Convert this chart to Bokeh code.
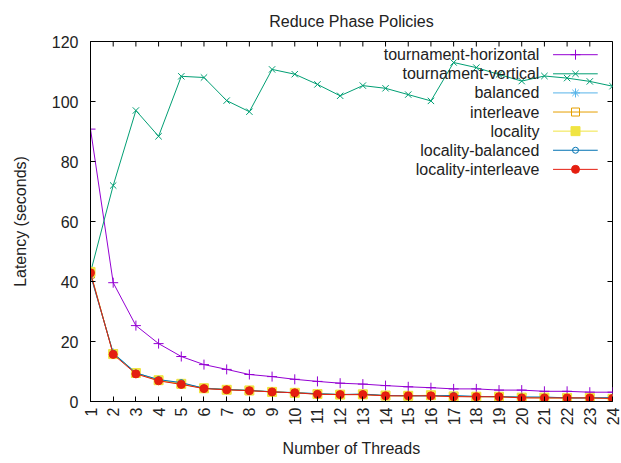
import math

from bokeh.core.properties import value
from bokeh.embed import file_html
from bokeh.models import FixedTicker, Range1d
from bokeh.plotting import figure
from bokeh.resources import INLINE

# Thread counts and measured reduce-phase latencies (seconds)
threads = list(range(1, 25))

tournament_horizontal = [90.8, 39.6, 25.3, 19.3, 15.0, 12.3, 10.7, 9.0, 8.3, 7.4, 6.7, 6.1,
                         5.8, 5.3, 4.9, 4.6, 4.2, 4.2, 3.8, 3.8, 3.4, 3.4, 3.1, 3.1]
tournament_vertical = [43.0, 72.0, 97.0, 88.4, 108.4, 108.0, 100.3, 96.6, 110.7, 109.1, 105.7, 101.9,
                       105.3, 104.4, 102.3, 100.2, 113.0, 111.3, 109.0, 106.8, 108.5, 107.8, 106.7, 105.1]
balanced = [42.0, 16.2, 9.6, 7.2, 6.0, 4.5, 4.0, 3.7, 3.3, 3.0, 2.6, 2.4,
            2.3, 2.0, 2.0, 1.9, 1.7, 1.6, 1.6, 1.4, 1.3, 1.2, 1.2, 1.1]
interleave = [42.5, 16.0, 9.4, 7.0, 5.8, 4.4, 4.0, 3.6, 3.2, 2.9, 2.5, 2.3,
              2.3, 1.9, 1.9, 2.0, 1.7, 1.6, 1.6, 1.3, 1.2, 1.2, 1.2, 0.9]
locality = [43.2, 15.8, 9.5, 7.1, 5.9, 4.4, 3.9, 3.7, 3.2, 2.9, 2.5, 2.3,
            2.4, 2.0, 1.9, 2.1, 1.7, 1.6, 1.6, 1.3, 1.3, 1.2, 1.2, 0.9]
locality_balanced = [42.4, 16.1, 9.5, 7.3, 6.3, 4.4, 4.0, 3.7, 3.2, 2.9, 2.6, 2.3,
                     2.5, 2.0, 1.9, 1.9, 2.0, 1.7, 1.6, 1.5, 1.5, 1.2, 1.2, 1.3]
locality_interleave = [42.9, 15.7, 9.2, 6.9, 5.7, 4.3, 3.9, 3.6, 3.2, 2.9, 2.4, 2.3,
                       2.3, 1.9, 1.9, 1.9, 1.6, 1.6, 1.6, 1.2, 1.2, 1.2, 1.2, 1.0]

series_names = ["tournament-horizontal", "tournament-vertical", "balanced", "interleave",
                "locality", "locality-balanced", "locality-interleave"]
series_values = [tournament_horizontal, tournament_vertical, balanced, interleave,
                 locality, locality_balanced, locality_interleave]

y_ticks = [0, 20, 40, 60, 80, 100, 120]
x_min, x_max = 1, 24
y_min, y_max = 0, 120

# (colour, marker, size, filled)
styles = [
    ("#9400d3", "cross", 10, False),
    ("#009e73", "x", 9, False),
    ("#56b4e9", "asterisk", 9, False),
    ("#e69f00", "square", 8, False),
    ("#f0e442", "square", 9, True),
    ("#0072b2", "circle", 6, False),
    ("#e51e10", "circle", 8, True),
]

FONT = "Liberation Sans"
TEXT = "#222222"

p = figure(width=621, height=463, output_backend="svg", toolbar_location=None,
           x_range=Range1d(x_min, x_max), y_range=Range1d(y_min, y_max),
           title="Reduce Phase Policies",
           min_border_left=90, min_border_right=9, min_border_top=41, min_border_bottom=62)

p.title.align = "center"
p.title.vertical_align = "top"
p.title.text_font = FONT
p.title.text_font_size = "16px"
p.title.text_font_style = "normal"
p.title.text_color = TEXT
p.title.standoff = 20

p.grid.visible = False
p.outline_line_color = "black"
p.outline_line_width = 1
p.background_fill_color = "white"
p.border_fill_color = "white"

for ax in (p.xaxis[0], p.yaxis[0]):
    ax.major_tick_in = 5
    ax.major_tick_out = 0
    ax.minor_tick_line_color = None
    ax.axis_line_color = "black"
    ax.major_tick_line_color = "black"
    ax.major_label_text_font = FONT
    ax.major_label_text_font_size = "16px"
    ax.major_label_text_color = TEXT
    ax.axis_label_text_font = FONT
    ax.axis_label_text_font_size = "16px"
    ax.axis_label_text_font_style = "normal"
    ax.axis_label_text_color = TEXT

p.xaxis[0].ticker = FixedTicker(ticks=threads)
p.xaxis[0].major_label_orientation = math.pi / 2
p.xaxis[0].major_label_standoff = 6
p.xaxis[0].axis_label = "Number of Threads"
p.xaxis[0].axis_label_standoff = 12

p.yaxis[0].ticker = FixedTicker(ticks=y_ticks)
p.yaxis[0].major_label_standoff = 12
p.yaxis[0].axis_label = "Latency (seconds)"
p.yaxis[0].axis_label_standoff = 20

# Mirrored inward ticks on the top and right borders (the half outside the frame is clipped)
p.scatter(threads, [y_max] * len(threads), marker="dash", angle=math.pi / 2, size=10,
          line_color="black", line_width=1)
p.scatter([x_max] * len(y_ticks), y_ticks, marker="dash", size=10,
          line_color="black", line_width=1)

for vals, (color, marker, size, filled) in zip(series_values, styles):
    p.line(threads, vals, line_color=color, line_width=1)
    p.scatter(threads, vals, marker=marker, size=size, line_color=color, line_width=1,
              fill_color=color if filled else None)

# Key in the upper right: right-aligned names followed by a line sample
key_text_x = 20.78
key_line_x0, key_line_x1, key_mark_x = 21.38, 23.35, 22.37
key_y0, key_dy = 115.6, 6.37
for i, (name, (color, marker, size, filled)) in enumerate(zip(series_names, styles)):
    y = key_y0 - i * key_dy
    p.text(x=[key_text_x], y=[y], text=[name], text_align="right", text_baseline="middle",
           text_font=value(FONT), text_font_size="16px", text_color=TEXT)
    p.segment(x0=[key_line_x0], y0=[y], x1=[key_line_x1], y1=[y], line_color=color, line_width=1)
    p.scatter([key_mark_x], [y], marker=marker, size=size, line_color=color, line_width=1,
              fill_color=color if filled else None)

open("out.html", "w").write(file_html(p, INLINE))
